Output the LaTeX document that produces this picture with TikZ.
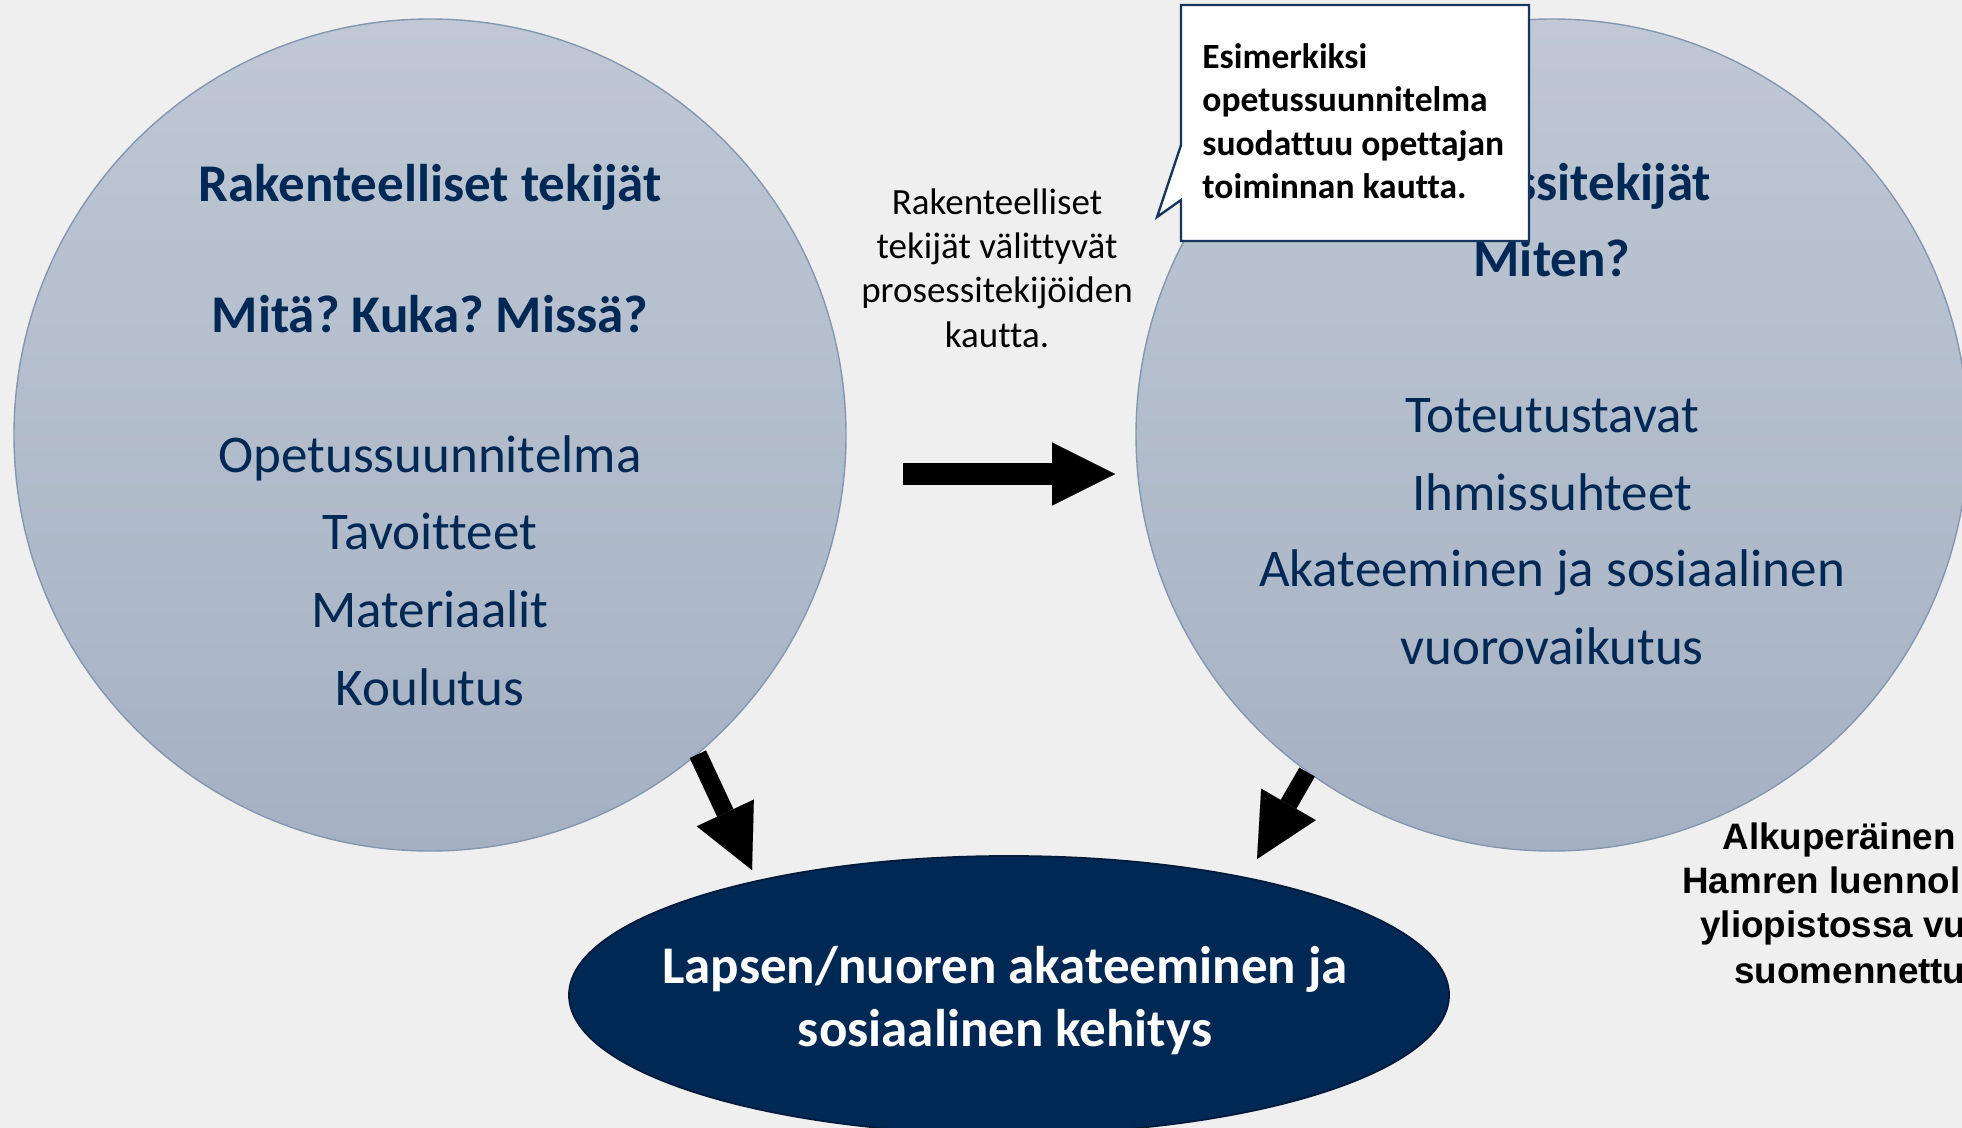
\documentclass[tikz,border=0pt]{standalone}
\usepackage{fontspec}
\setmainfont{Carlito}[Ligatures={NoCommon}]
\newfontfamily\arialfont{Liberation Sans}
\usetikzlibrary{arrows.meta,shapes.geometric}
\definecolor{bgc}{HTML}{EFEFEF}
\definecolor{ctop}{HTML}{BFC8D4}
\definecolor{cbot}{HTML}{A5B1C3}
\definecolor{cedge}{HTML}{8497B0}
\definecolor{navy}{HTML}{002855}
\definecolor{navyedge}{HTML}{001A3A}
\definecolor{calloutedge}{HTML}{17365D}
\frenchspacing
\begin{document}
\frenchspacing
\begin{tikzpicture}[x=0.5pt,y=-0.5pt,
  bigcirc/.style={circle, minimum size=416pt, inner sep=0pt, top color=ctop, bottom color=cbot, draw=cedge, line width=0.7pt},
  goal/.style={ellipse, minimum width=440pt, minimum height=139pt, inner sep=0pt, fill=navy, draw=navyedge, line width=0.9pt},
  lbl/.style={anchor=base, inner sep=0pt, text=navy, font=\fontsize{26.5pt}{32pt}\selectfont},
  lblb/.style={lbl, font=\fontsize{26.5pt}{32pt}\selectfont\bfseries},
  midtxt/.style={anchor=base, inner sep=0pt, text=black, font=\fontsize{18.5pt}{22pt}\selectfont},
  calltxt/.style={anchor=base west, inner sep=0pt, text=black, font=\fontsize{17.75pt}{21.5pt}\selectfont\bfseries},
  goaltxt/.style={anchor=base, inner sep=0pt, text=white, font=\fontsize{26.5pt}{32pt}\selectfont\bfseries},
  srctxt/.style={anchor=base west, inner sep=0pt, text=black, font=\arialfont\bfseries\fontsize{18.4pt}{22pt}\selectfont},
  callout/.style={fill=white, draw=calloutedge, line width=1.2pt, line join=miter},
  blockarrow/.style={line width=#1, -{Triangle[length=31.5pt,width=31.5pt,line width=0.01pt]}},
  blockarrow/.default=9pt
]
\useasboundingbox (0,0) rectangle (1962,1128);
\fill[bgc] (0,0) rectangle (1962,1128);
\clip (0,0) rectangle (1962,1128);

% circles and goal ellipse
\node[bigcirc] (lc) at (430,435) {};
\node[bigcirc] (rc) at (1552,435) {};
\node[goal] (el) at (1009,995) {};

% left circle text
\node[lblb] (l1) at (430,202) {Rakenteelliset tekijät};
\node[lblb] (l2) at (430,332) {Mitä? Kuka? Missä?};
\node[lbl] (l3) at (430,472) {Opetussuunnitelma};
\node[lbl] (l4) at (430,549) {Tavoitteet};
\node[lbl] (l5) at (430,627) {Materiaalit};
\node[lbl] (l6) at (430,705) {Koulutus};

% right circle text
\node[lblb] (r1) at (1552,201) {Prosessitekijät};
\node[lblb] (r2) at (1552,277) {Miten?};
\node[lbl] (r3) at (1552,432) {Toteutustavat};
\node[lbl] (r4) at (1552,510) {Ihmissuhteet};
\node[lbl] (r5) at (1552,586) {Akateeminen ja sosiaalinen};
\node[lbl] (r6) at (1552,664) {vuorovaikutus};

% middle text
\node[midtxt] (m1) at (997,215) {Rakenteelliset};
\node[midtxt] (m2) at (997,259) {tekijät välittyvät};
\node[midtxt] (m3) at (997,303) {prosessitekijöiden};
\node[midtxt] (m4) at (997,347) {kautta.};

% goal text
\node[goaltxt] (g1) at (1005,983) {Lapsen/nuoren akateeminen ja};
\node[goaltxt] (g2) at (1005,1046) {sosiaalinen kehitys};

% arrows
\coordinate (h1) at (903,474);
\coordinate (h2) at (1115,474);
\draw[blockarrow=11pt] (h1) -- (h2);
\coordinate (lt) at (752,870);
\coordinate (rt) at (1257,859);
\draw[blockarrow=9pt] (lc.-50.5) -- (lt);
\draw[blockarrow=9pt] (rc.-126.7) -- (rt);

% callout
\draw[callout] (1181,5) -- (1529,5) -- (1529,241) -- (1181,241) -- (1181,200) -- (1157,217) -- (1181,145) -- cycle;
\node[calltxt] (c1) at (1202,69) {Esimerkiksi};
\node[calltxt] (c2) at (1202,112) {opetussuunnitelma};
\node[calltxt] (c3) at (1202,156) {suodattuu opettajan};
\node[calltxt] (c4) at (1202,199) {toiminnan kautta.};

% source text (cut off at the right edge)
\node[srctxt] (s1) at (1722,849) {Alkuperäinen};
\node[srctxt] (s2) at (1682,893) {Hamren luennol};
\node[srctxt] (s3) at (1700,937) {yliopistossa vu};
\node[srctxt] (s4) at (1734,983) {suomennettu};
\end{tikzpicture}
\end{document}
